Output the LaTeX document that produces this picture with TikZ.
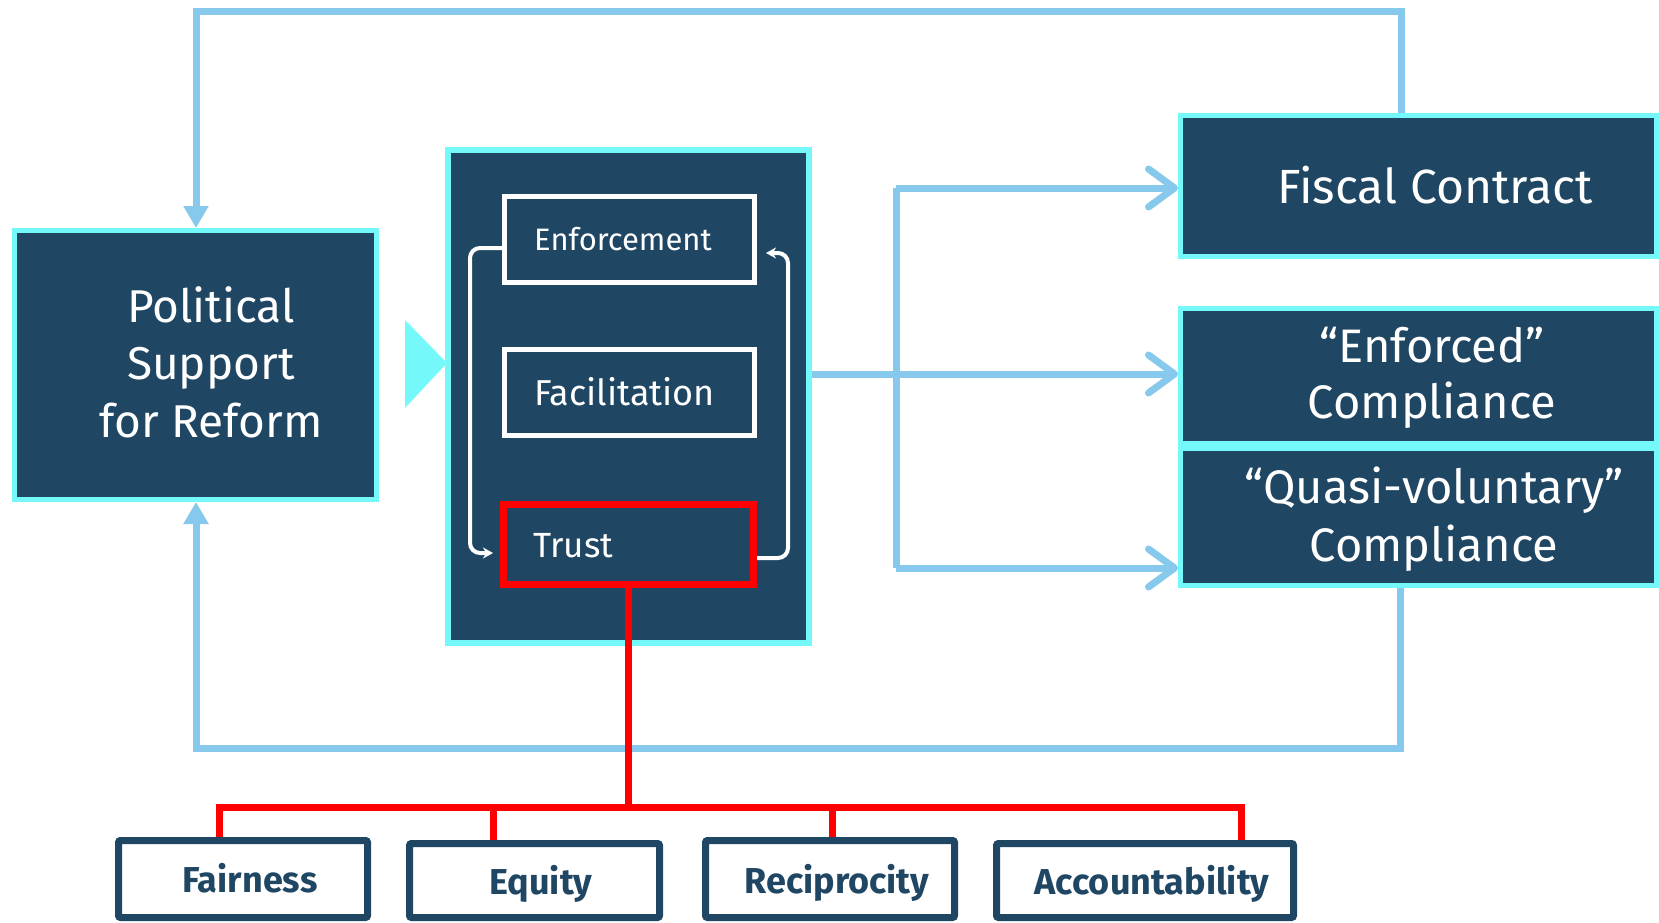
\documentclass[tikz,border=0pt]{standalone}
\usepackage{fontspec}
\setmainfont{Fira Sans}
\usetikzlibrary{arrows.meta}
\definecolor{navy}{RGB}{31,70,99}
\definecolor{aqua}{RGB}{117,248,249}
\definecolor{lblue}{RGB}{135,201,236}
\definecolor{pured}{RGB}{255,0,0}
\begin{document}
\begin{tikzpicture}[x=1pt,y=-1pt,
  cyanbox/.style={draw=aqua, fill=navy, line width=5pt, inner sep=0pt},
  whitebox/.style={draw=white, line width=5pt, inner sep=0pt},
  trustbox/.style={draw=pured, line width=7pt, inner sep=0pt},
  labelbox/.style={draw=navy, fill=white, line width=7pt, rounded corners=2pt, inner sep=0pt},
  flow/.style={draw=lblue, line width=7pt},
  chev/.style={-{Straight Barb[length=26pt,width=38pt,round]}},
  tri/.style={-{Triangle[length=22pt,width=24pt]}},
  loopline/.style={draw=white, line width=4pt, rounded corners=10pt, -{Stealth[length=10pt,width=11pt]}},
  redline/.style={draw=pured, line width=7pt},
  bigtext/.style={text=white, align=center, font=\fontsize{48}{57}\selectfont, inner sep=0pt},
  midtext/.style={text=white, inner sep=0pt},
  smalltext/.style={text=navy, font=\bfseries\fontsize{36}{40}\selectfont, inner sep=0pt}
]
\useasboundingbox (0,0) rectangle (1659,923);

% corner points of the blue feedback loops
\coordinate (tl) at (196,12);
\coordinate (tr) at (1401,12);
\coordinate (bl) at (196,748);
\coordinate (br) at (1400,748);

% boxes
\node[cyanbox, minimum width=362pt, minimum height=269pt] (pol) at (195.5,365) {};
\node[cyanbox, line width=6pt, minimum width=361pt, minimum height=493pt] (main) at (628.5,396.5) {};
\node[cyanbox, minimum width=476pt, minimum height=141pt] (fiscal) at (1418.5,186) {};
\node[cyanbox, minimum width=476pt, minimum height=135pt] (enfc) at (1418.5,376) {};
\node[cyanbox, minimum width=476pt, minimum height=137pt] (quasi) at (1418.5,517) {};

\draw[flow, tri] (fiscal.north -| tr) -- (tr) -- (tl) -- (pol.north -| tl);
\draw[flow, tri] (quasi.south -| br) -- (br) -- (bl) -- (pol.south -| bl);

% triangle into main box
\fill[aqua] (405,320) -- (447,363) -- (405,408) -- cycle;

% inner boxes
\node[whitebox, minimum width=250pt, minimum height=86pt] (enf) at (629.5,239.5) {};
\node[whitebox, minimum width=250pt, minimum height=86pt] (fac) at (629.5,392.5) {};
\node[trustbox, minimum width=250pt, minimum height=80pt] (trust) at (628.5,544.5) {};

\node[midtext, anchor=base west, font=\fontsize{31}{36}\selectfont] (enft) at (534,250) {Enforcement};
\node[midtext, anchor=base west, font=\fontsize{36}{40}\selectfont] (fact) at (534,405) {Facilitation};
\node[midtext, anchor=base west, font=\fontsize{35}{40}\selectfont] (trustt) at (533,557) {Trust};

% loops
\draw[loopline] (enf.west |- 0,248) -- (470,248) -- (470,553) -- ([xshift=-7pt]trust.west |- 0,553);
\draw[loopline] (trust.east |- 0,558) -- (788,558) -- (788,253) -- ([xshift=9pt]enf.east |- 0,253);

% outputs
\coordinate (v1) at (896,188);
\coordinate (v2) at (896,568);
\draw[flow, chev] (v1) -- (fiscal.west |- v1);
\draw[flow] (v1) -- (v2);
\draw[flow, chev] (v2) -- (quasi.west |- v2);
\draw[flow, chev] (main.east |- 0,374) -- (enfc.west |- 0,374);

% box texts (base anchor = baseline of last line)
\node[bigtext, font=\fontsize{46}{57.5}\selectfont, anchor=base] (polt) at (211,437) {Political\\Support\\for Reform};
\node[bigtext, anchor=base] (fisct) at (1435,203) {Fiscal Contract};
\node[bigtext, font=\fontsize{47}{56}\selectfont, anchor=base] (enfct) at (1432,418) {“Enforced”\\Compliance};
\node[bigtext, font=\fontsize{47}{58}\selectfont, anchor=base] (quasit) at (1434,561) {“Quasi-voluntary”\\Compliance};

% bottom boxes
\node[labelbox, minimum width=249pt, minimum height=77pt] (fair) at (243,879) {};
\node[labelbox, minimum width=250pt, minimum height=74pt] (equ) at (534.5,880.5) {};
\node[labelbox, minimum width=249pt, minimum height=77pt] (rec) at (830,879) {};
\node[labelbox, minimum width=297pt, minimum height=74pt] (acc) at (1145,880.5) {};

\node[smalltext, anchor=base] (fairt) at (250,892) {Fairness};
\node[smalltext, anchor=base] (equt) at (541,894) {Equity};
\node[smalltext, anchor=base] (rect) at (837,893) {Reciprocity};
\node[smalltext, anchor=base] (acct) at (1152,894) {Accountability};

% red tree
\coordinate (rl) at (219,807);
\coordinate (rr) at (1241,807);
\draw[redline] (trust.south) -- (trust.south |- rl);
\draw[redline] (fair.north -| rl) -- (rl) -- (rr) -- (acc.north -| rr);
\draw[redline] (equ.north -| 493,0) -- (493,807);
\draw[redline] (rec.north -| 832,0) -- (832,807);
\end{tikzpicture}
\end{document}
